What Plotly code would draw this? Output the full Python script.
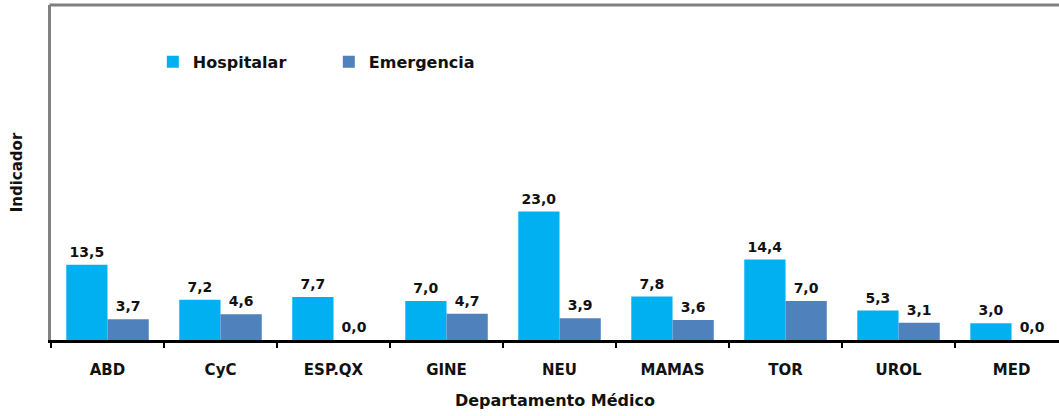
import plotly.graph_objects as go

# Departments and indicator values per series
departamentos = ["ABD", "CyC", "ESP.QX", "GINE", "NEU", "MAMAS", "TOR", "UROL", "MED"]
hospitalar = [13.5, 7.2, 7.7, 7.0, 23.0, 7.8, 14.4, 5.3, 3.0]
emergencia = [3.7, 4.6, 0.0, 4.7, 3.9, 3.6, 7.0, 3.1, 0.0]

FONT = "DejaVu Sans"
INK = "#111111"

fig = go.Figure()
for name, vals, color in [("Hospitalar", hospitalar, "#00B0F0"),
                          ("Emergencia", emergencia, "#4F81BD")]:
    fig.add_trace(go.Bar(
        x=departamentos, y=vals, name=name,
        marker=dict(color=color, line=dict(width=0)),
        # value label at 14px over a small-font spacer line for extra lift
        texttemplate="<span style='font-size:14px'>%{y:.1f}</span><br> ",
        textposition="outside",
        textfont=dict(family=FONT, size=3, color=INK, weight="bold"),
        cliponaxis=False,
    ))

fig.update_layout(
    width=1059, height=416,
    margin=dict(l=51, r=0, t=5, b=76, autoexpand=False),
    paper_bgcolor="white", plot_bgcolor="white",
    separators=",.",
    barmode="group", bargap=0.27, bargroupgap=0,
    font=dict(family=FONT, color=INK),
    showlegend=True,
    legend=dict(
        orientation="h", xref="paper", yref="paper",
        x=0.101, y=0.83, xanchor="left", yanchor="middle",
        font=dict(family=FONT, size=16, color=INK, weight="bold"),
        entrywidth=131, entrywidthmode="pixels",
        itemsizing="constant", bgcolor="rgba(0,0,0,0)",
    ),
    xaxis=dict(
        range=[-0.5, 8.42],
        showline=True, linecolor="black", linewidth=2.5,
        ticks="outside", tickson="boundaries", ticklen=5, tickwidth=2,
        tickcolor="black", ticklabelstandoff=14,
        tickfont=dict(family=FONT, size=15, color=INK, weight="bold"),
        showgrid=False,
        title=dict(text="Departamento Médico", standoff=18,
                   font=dict(family=FONT, size=16, color=INK, weight="bold")),
    ),
    yaxis=dict(
        range=[0, 60],
        showline=True, linecolor="#808080", linewidth=3,
        showticklabels=False, ticks="", showgrid=False, zeroline=False,
        title=dict(text="Indicador", standoff=22,
                   font=dict(family=FONT, size=15, color=INK, weight="bold")),
    ),
    shapes=[dict(type="line", xref="paper", yref="paper",
                 x0=-0.0015, x1=1, y0=1, y1=1,
                 line=dict(color="#808080", width=3))],
)

fig.write_html("out.html")
